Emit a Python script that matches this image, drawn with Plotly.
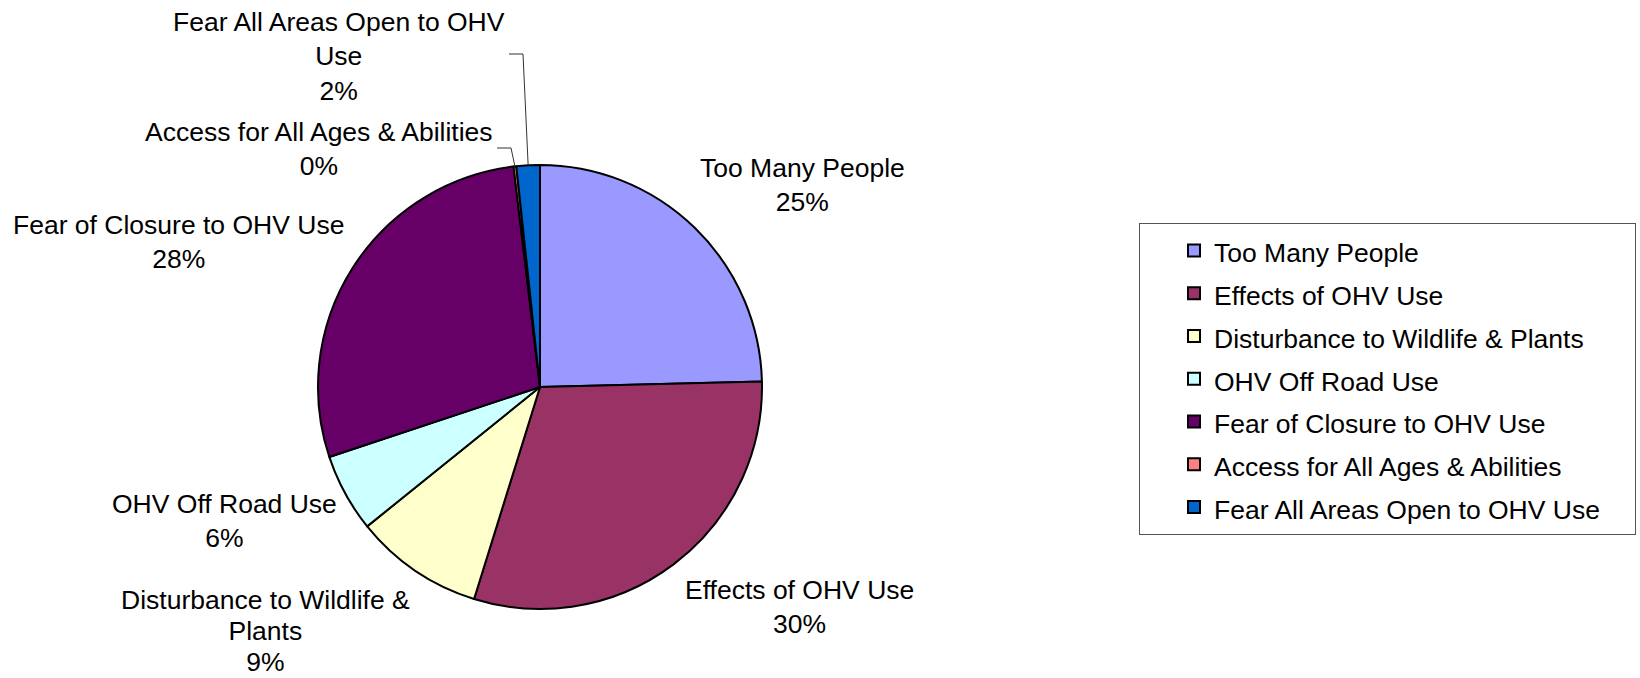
import math
import plotly.graph_objects as go

W, H = 1640, 678
FONT = "Liberation Sans, Arial, sans-serif"

# data (share of responses, %)
labels = ["Too Many People", "Effects of OHV Use", "Disturbance to Wildlife & Plants",
          "OHV Off Road Use", "Fear of Closure to OHV Use",
          "Access for All Ages & Abilities", "Fear All Areas Open to OHV Use"]
values = [24.6, 30.2, 9.4, 5.7, 28.2, 0.2, 1.7]
colors = ["#9999FF", "#993366", "#FFFFCC", "#CCFFFF", "#660066", "#FF8080", "#0066CC"]

# how the outside labels wrap in the original
label_lines = [["Too Many People"], ["Effects of OHV Use"],
               ["Disturbance to Wildlife &", "Plants"], ["OHV Off Road Use"],
               ["Fear of Closure to OHV Use"], ["Access for All Ages & Abilities"],
               ["Fear All Areas Open to OHV", "Use"]]

# label placement: centre x / first baseline y / line spacing font, in px
label_pos = [(802, 176), (799, 598), (265, 608), (224, 512), (178, 233), (319, 140), (339, 30)]
label_spacing = [26.5, 26.5, 24, 26.5, 26.5, 26.5, 26.5]
# leader lines for the thin slices: slice index -> label-side start (px)
leaders = {5: (497, 148), 6: (509, 54)}

# pie placement
cx, cy, r = 540, 387, 222


def paper(x, y):
    return x / W, 1 - y / H


total = sum(values)
pcts = [v / total * 100 for v in values]

# legend text drawn at 26.5px inside a bigger legend font to get Excel-like row spacing
legend_names = [f'<span style="font-size:26.5px">{l}' + "&nbsp;" * 4 + "</span>" for l in labels]

fig = go.Figure(go.Pie(
    labels=legend_names,
    values=values,
    sort=False,
    direction="clockwise",
    rotation=0,
    textinfo="none",
    hoverinfo="skip",
    marker=dict(colors=colors, line=dict(color="black", width=2)),
    domain=dict(x=[(cx - r) / W, (cx + r) / W], y=[1 - (cy + r) / H, 1 - (cy - r) / H]),
))

annotations = []
for lines, p, (lx, ly), fs in zip(label_lines, pcts, label_pos, label_spacing):
    x, y = paper(lx, ly - 25)
    txt = "<br>".join(f'<span style="font-size:26.5px">{t}</span>'
                      for t in lines + [f"{round(p)}%"])
    annotations.append(dict(
        text=txt,
        x=x, y=y, xref="paper", yref="paper", xanchor="center", yanchor="top",
        align="center", showarrow=False, font=dict(family=FONT, size=fs, color="black"),
    ))

shapes = []
cum = 0
for i, p in enumerate(pcts):
    mid = (cum + p / 2) / 100 * 2 * math.pi
    cum += p
    if i not in leaders:
        continue
    ex, ey = cx + r * math.sin(mid), cy - r * math.cos(mid)
    sx, sy = leaders[i]
    pts = [paper(sx, sy), paper(sx + 14, sy), paper(ex, ey)]
    path = "M " + " L ".join(f"{a},{b}" for a, b in pts)
    shapes.append(dict(type="path", path=path, xref="paper", yref="paper",
                       line=dict(color="#333333", width=1)))

fig.update_layout(
    width=W, height=H,
    margin=dict(l=0, r=0, t=0, b=0),
    paper_bgcolor="white", plot_bgcolor="white",
    font=dict(family=FONT, color="black"),
    annotations=annotations,
    shapes=shapes,
    showlegend=True,
    legend=dict(
        x=1139 / W, y=1 - 223 / H, xanchor="left", yanchor="top",
        font=dict(family=FONT, size=30.6, color="black"),
        bordercolor="#555555", borderwidth=1, bgcolor="white",
        indentation=34,
    ),
)

fig.write_html("out.html", config={"displayModeBar": False},
               post_script="document.body.style.margin='0';")
